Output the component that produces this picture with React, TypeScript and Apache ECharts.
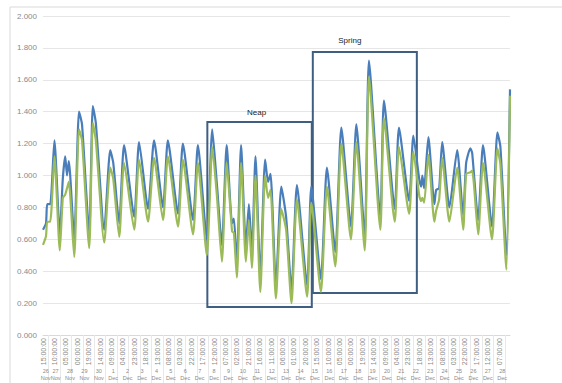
import React, { useEffect, useRef } from "react";
import * as echarts from "echarts";

// x positions are hours since 26 Nov 15:00
const hours = [
  0, 5, 7, 12, 19, 28, 33, 37, 40, 43, 52, 60, 65, 77, 83, 88, 102, 112, 117, 127,
  135, 152, 160, 175, 185, 200, 208, 225, 233, 250, 258, 273, 282, 290, 298, 306, 315, 318, 323, 330,
  338, 343, 348, 354, 362, 370, 375, 379, 388, 397, 405, 414, 423, 440, 447, 463, 473, 487, 497, 513,
  522, 536, 543, 562, 568, 586, 593, 610, 617, 627, 630, 632, 635, 642, 652, 655, 660, 665, 677, 690,
  700, 705, 712, 715, 725, 733, 748, 757, 762, 772, 778,
];
const blue = [
  0.66, 0.70, 0.82, 0.82, 1.22, 0.63, 0.98, 1.12, 1.00, 1.09, 0.60, 1.40, 1.32, 0.64, 1.435, 1.33, 0.66, 1.16, 1.08, 0.70,
  1.19, 0.74, 1.21, 0.79, 1.22, 0.80, 1.22, 0.76, 1.20, 0.72, 1.19, 0.60, 1.29, 0.93, 0.56, 1.19, 0.70, 0.73, 0.45, 1.19,
  0.55, 0.82, 0.52, 1.12, 0.36, 1.10, 0.96, 1.01, 0.31, 0.93, 0.74, 0.28, 0.94, 0.31, 0.93, 0.35, 1.05, 0.52, 1.30, 0.68,
  1.32, 0.62, 1.72, 0.74, 1.47, 0.79, 1.30, 0.84, 1.25, 0.97, 0.93, 1.00, 0.92, 1.24, 0.82, 0.91, 0.92, 1.21, 0.80, 1.16,
  0.75, 1.08, 1.17, 1.14, 0.72, 1.19, 0.68, 1.27, 1.18, 0.50, 1.54,
];
const green = [
  0.565, 0.62, 0.71, 0.71, 1.12, 0.53, 0.86, 0.88, 0.92, 0.96, 0.49, 1.29, 1.22, 0.545, 1.33, 1.22, 0.58, 1.05, 0.98, 0.615,
  1.08, 0.66, 1.10, 0.71, 1.11, 0.72, 1.12, 0.68, 1.10, 0.63, 1.08, 0.50, 1.18, 0.86, 0.46, 1.08, 0.65, 0.64, 0.36, 1.08,
  0.46, 0.72, 0.42, 1.00, 0.27, 1.00, 0.86, 0.91, 0.23, 0.79, 0.66, 0.20, 0.85, 0.24, 0.83, 0.27, 0.93, 0.43, 1.20, 0.60,
  1.21, 0.53, 1.62, 0.66, 1.36, 0.71, 1.18, 0.76, 1.15, 0.87, 0.84, 0.86, 0.83, 1.13, 0.71, 0.78, 0.85, 1.11, 0.71, 1.05,
  0.66, 1.01, 1.02, 1.03, 0.63, 1.08, 0.60, 1.17, 1.07, 0.41, 1.50,
];

const timeLabels = [
  "15:00:00", "10:00:00", "05:00:00", "00:00:00", "19:00:00", "14:00:00", "09:00:00", "04:00:00",
  "23:00:00", "18:00:00", "13:00:00", "08:00:00", "03:00:00", "22:00:00", "17:00:00", "12:00:00",
  "07:00:00", "02:00:00", "21:00:00", "16:00:00", "11:00:00", "06:00:00", "01:00:00", "20:00:00",
  "15:00:00", "10:00:00", "05:00:00", "00:00:00", "19:00:00", "14:00:00", "09:00:00", "04:00:00",
  "23:00:00", "18:00:00", "13:00:00", "08:00:00", "03:00:00", "22:00:00", "17:00:00", "12:00:00",
  "07:00:00",
];
const dateLabels = [
  "26 Nov", "27 Nov", "28 Nov", "29 Nov", "30 Nov",
  "1 Dec", "2 Dec", "3 Dec", "4 Dec", "5 Dec", "6 Dec", "7 Dec", "8 Dec", "9 Dec", "10 Dec",
  "11 Dec", "12 Dec", "13 Dec", "14 Dec", "15 Dec", "16 Dec", "17 Dec", "18 Dec", "19 Dec", "20 Dec",
  "21 Dec", "22 Dec", "23 Dec", "24 Dec", "25 Dec", "26 Dec", "27 Dec", "28 Dec",
];
const yTicks = [0, 0.2, 0.4, 0.6, 0.8, 1.0, 1.2, 1.4, 1.6, 1.8, 2.0];

// annotation boxes
const neapBox = { name: "Neap", x0: 273.8, x1: 447.8, y0: 1.335, y1: 0.176 };
const springBox = { name: "Spring", x0: 449.5, x1: 622.8, y0: 1.774, y1: 0.263 };

const LABEL_STEP = 19;
const X_MAX = 778;

export default function App() {
  const ref = useRef<HTMLDivElement>(null);
  useEffect(() => {
    if (!ref.current) return;
    const chart = echarts.init(ref.current, null, { renderer: "svg" });
    const tickVals = timeLabels.map((_, i) => i * LABEL_STEP);
    const sepVals = timeLabels.map((_, i) => i * LABEL_STEP + LABEL_STEP / 2).filter((v) => v < X_MAX);
    const dateCenters = dateLabels.map((_, i) =>
      i === 0 ? 4.5 : i === dateLabels.length - 1 ? 765 : 21 + 24 * (i - 1)
    );
    const font = "Liberation Sans";
    const boxStyle = {
      color: "rgba(0,0,0,0)",
      borderColor: "#3f5f82",
      borderWidth: 2,
    };
    chart.setOption({
      animation: false,
      backgroundColor: "#ffffff",
      textStyle: { fontFamily: font },
      grid: { left: 43, right: 52, top: 16, bottom: 48, containLabel: false, outerBoundsMode: "none" },
      graphic: [
        {
          type: "rect",
          shape: { x: 10, y: 7, width: 600, height: 420 },
          style: { fill: "none", stroke: "#d9d9d9", lineWidth: 1 },
          silent: true,
        },
      ],
      xAxis: [
        {
          type: "value",
          min: 0,
          max: X_MAX,
          position: "bottom",
          axisLine: { show: true, lineStyle: { color: "#d9d9d9" } },
          axisTick: {
            show: true,
            customValues: sepVals,
            length: 48,
            lineStyle: { color: "#e8e8e8" },
          },
          splitLine: { show: false },
          axisLabel: {
            customValues: tickVals,
            rotate: 90,
            margin: 3,
            fontSize: 7,
            color: "#8a8a8a",
            fontFamily: font,
            formatter: (v: number) => timeLabels[Math.round(v / LABEL_STEP)] ?? "",
          },
        },
        {
          type: "value",
          min: 0,
          max: X_MAX,
          position: "bottom",
          offset: 33,
          axisLine: { show: false },
          axisTick: { show: false },
          splitLine: { show: false },
          axisLabel: {
            customValues: dateCenters,
            fontSize: 5.5,
            lineHeight: 6.5,
            color: "#8a8a8a",
            fontFamily: font,
            margin: 0,
            hideOverlap: false,
            formatter: (v: number) => {
              let idx = -1;
              dateCenters.forEach((c, i) => {
                if (Math.abs(c - v) < 0.01) idx = i;
              });
              return idx >= 0 ? dateLabels[idx].replace(" ", "\n") : "";
            },
          },
        },
      ],
      yAxis: {
        type: "value",
        min: yTicks[0],
        max: yTicks[yTicks.length - 1],
        interval: 0.2,
        axisLine: { show: false },
        axisTick: { show: false },
        splitLine: { lineStyle: { color: "#e6e6e6" } },
        axisLabel: {
          fontSize: 8,
          color: "#8a8a8a",
          margin: 6,
          fontFamily: font,
          formatter: (v: number) => v.toFixed(3),
        },
      },
      series: [
        {
          type: "line",
          name: "blue",
          data: hours.map((h, i) => [h, blue[i]]),
          showSymbol: false,
          smooth: 0.2,
          lineStyle: { color: "#4a7ebb", width: 2.2 },
          itemStyle: { color: "#4a7ebb" },
        },
        {
          type: "line",
          name: "green",
          data: hours.map((h, i) => [h, green[i]]),
          showSymbol: false,
          smooth: 0.2,
          lineStyle: { color: "#9bbb59", width: 2.2 },
          itemStyle: { color: "#9bbb59" },
          markArea: {
            silent: true,
            itemStyle: boxStyle,
            label: { show: true, position: "top", color: "#222", fontSize: 8, fontFamily: font, distance: 5 },
            data: [
              [
                { name: neapBox.name, coord: [neapBox.x0, neapBox.y0], label: { offset: [-3, 0] } },
                { coord: [neapBox.x1, neapBox.y1] },
              ],
              [
                { name: springBox.name, coord: [springBox.x0, springBox.y0], label: { offset: [-15, -2] } },
                { coord: [springBox.x1, springBox.y1] },
              ],
            ],
          },
        },
      ],
    });
    return () => chart.dispose();
  }, []);
  return (
    <div
      ref={ref}
      style={{ position: "absolute", left: 0, top: 0, width: 562, height: 383 }}
    />
  );
}
